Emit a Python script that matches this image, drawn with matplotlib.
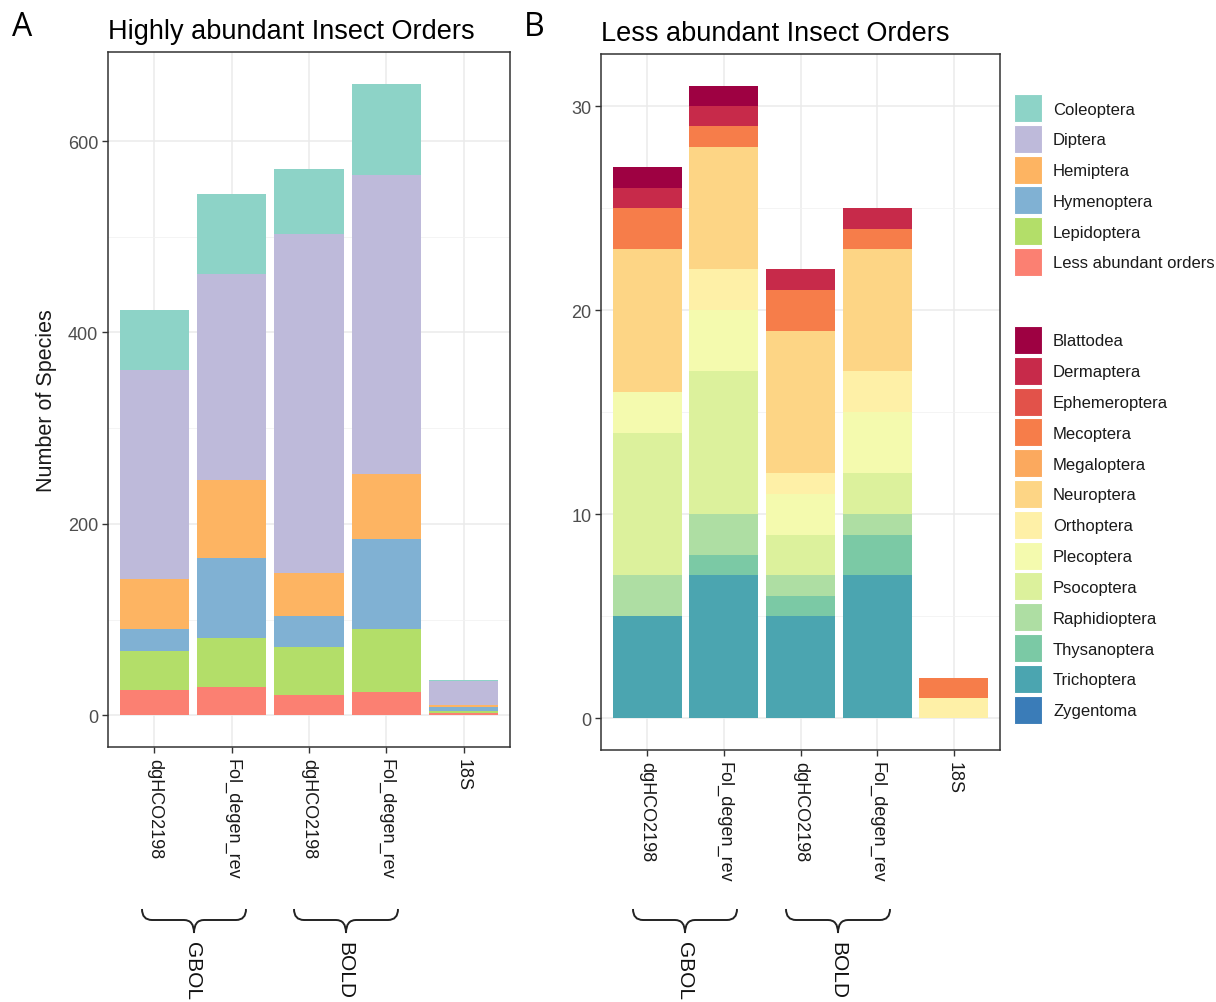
import numpy as np
import matplotlib
matplotlib.use("Agg")
import matplotlib.pyplot as plt
from matplotlib.patches import Rectangle, PathPatch
from matplotlib.path import Path

plt.rcParams['font.family'] = ['Liberation Sans', 'DejaVu Sans']

W, H = 1216, 1003

primers = ["dgHCO2198", "Fol_degen_rev", "dgHCO2198", "Fol_degen_rev", "18S"]

# highly abundant orders, species counts per primer/database
high_orders = ["Coleoptera", "Diptera", "Hemiptera", "Hymenoptera", "Lepidoptera",
               "Less abundant orders"]
high_colors = ["#8DD3C7", "#BEBADA", "#FDB462", "#80B1D3", "#B3DE69", "#FB8072"]
coleoptera = [62, 84, 68, 95, 1]
diptera = [219, 215, 354, 313, 25]
hemiptera = [52, 82, 45, 68, 2]
hymenoptera = [23, 83, 33, 94, 4]
lepidoptera = [40, 51, 50, 66, 3]
less_abundant = [27, 30, 21, 24, 2]
high_counts = [coleoptera, diptera, hemiptera, hymenoptera, lepidoptera, less_abundant]

# less abundant orders
low_orders = ["Blattodea", "Dermaptera", "Ephemeroptera", "Mecoptera", "Megaloptera",
              "Neuroptera", "Orthoptera", "Plecoptera", "Psocoptera", "Raphidioptera",
              "Thysanoptera", "Trichoptera", "Zygentoma"]
low_colors = ["#9E0142", "#C72A4A", "#E2524A", "#F67D4A", "#FBA95E", "#FDD585",
              "#FEF0A7", "#F4FAAE", "#DCF19C", "#AEDEA3", "#7BC9A5", "#4BA5B0", "#3A7CB8"]
blattodea = [1, 1, 0, 0, 0]
dermaptera = [1, 1, 1, 1, 0]
ephemeroptera = [0, 0, 0, 0, 0]
mecoptera = [2, 1, 2, 1, 1]
megaloptera = [0, 0, 0, 0, 0]
neuroptera = [7, 6, 7, 6, 0]
orthoptera = [0, 2, 1, 2, 1]
plecoptera = [2, 3, 2, 3, 0]
psocoptera = [7, 7, 2, 2, 0]
raphidioptera = [2, 2, 1, 1, 0]
thysanoptera = [0, 1, 1, 2, 0]
trichoptera = [5, 7, 5, 7, 0]
zygentoma = [0, 0, 0, 0, 0]
low_counts = [blattodea, dermaptera, ephemeroptera, mecoptera, megaloptera, neuroptera,
              orthoptera, plecoptera, psocoptera, raphidioptera, thysanoptera,
              trichoptera, zygentoma]


def px_axes(fig, x0, y0, x1, y1):
    return fig.add_axes([x0 / W, 1 - y1 / H, (x1 - x0) / W, (y1 - y0) / H])


def stacked(ax, counts, colors, ylim, major, minor):
    x = np.arange(1, len(primers) + 1)
    bottom = np.zeros(len(primers))
    # first level ends up on top, like ggplot's stacking
    for vals, col in zip(counts[::-1], colors[::-1]):
        vals = np.array(vals, dtype=float)
        ax.bar(x, vals, 0.9, bottom=bottom, color=col, linewidth=0, zorder=2)
        bottom += vals
    ax.set_xlim(0.4, len(primers) + 0.6)
    ax.set_ylim(*ylim)
    ax.set_xticks(x)
    ax.set_xticklabels(primers, rotation=270, fontsize=14, color="#1a1a1a",
                       va="top", ha="center")
    ax.set_yticks(major)
    ax.set_yticks(minor, minor=True)
    ax.tick_params(axis="y", which="minor", length=0)
    ax.tick_params(axis="both", which="major", length=4, width=1, color="#333333",
                   labelsize=13, labelcolor="#4D4D4D", pad=3)
    ax.tick_params(axis="x", labelcolor="#1a1a1a", pad=4)
    ax.grid(True, which="major", color="#EBEBEB", linewidth=1.1, zorder=0)
    ax.grid(True, which="minor", axis="y", color="#F2F2F2", linewidth=0.6, zorder=0)
    ax.set_axisbelow(True)
    for s in ax.spines.values():
        s.set_color("#333333")
        s.set_linewidth(1.1)


def brace(fig, x0, x1, ytop, ymid, ytip):
    xm = (x0 + x1) / 2
    r = 10
    pts = [(x0, ytop), (x0, ymid), (x0 + r, ymid),
           (xm - r, ymid), (xm, ymid), (xm, ytip),
           (xm, ymid), (xm + r, ymid),
           (x1 - r, ymid), (x1, ymid), (x1, ytop)]
    codes = [Path.MOVETO, Path.CURVE3, Path.CURVE3,
             Path.LINETO, Path.CURVE3, Path.CURVE3,
             Path.CURVE3, Path.CURVE3,
             Path.LINETO, Path.CURVE3, Path.CURVE3]
    verts = [(x / W, 1 - y / H) for x, y in pts]
    fig.patches.append(PathPatch(Path(verts, codes), transform=fig.transFigure,
                                 facecolor="none", edgecolor="#222222", linewidth=1.4))


fig = plt.figure(figsize=(W / 100, H / 100), dpi=100)

axA = px_axes(fig, 108, 53, 510, 748)
stacked(axA, high_counts, high_colors, (-33, 693), [0, 200, 400, 600], [100, 300, 500])
axA.set_ylabel("Number of Species", fontsize=15.5, color="#1a1a1a", labelpad=8)
axA.set_title("Highly abundant Insect Orders", loc="left", fontsize=19.5, pad=10)

axB = px_axes(fig, 601, 55, 1000, 751)
stacked(axB, low_counts, low_colors, (-1.55, 32.55), [0, 10, 20, 30], [5, 15, 25])
axB.set_title("Less abundant Insect Orders", loc="left", fontsize=19.5, pad=10)

fig.text(22 / W, 1 - 27 / H, "A", fontsize=23, family="Open Sans", va="center",
         ha="center")
fig.text(534 / W, 1 - 27 / H, "B", fontsize=23, family="Open Sans", va="center",
         ha="center")


# legend for both groups of orders
def legend_block(labels, colors, ytop, step=30.8):
    for i, (lab, col) in enumerate(zip(labels, colors)):
        y = ytop + i * step
        fig.patches.append(Rectangle((1014 / W, 1 - (y + 28) / H), 28 / W, 28 / H,
                                     transform=fig.transFigure, facecolor=col,
                                     edgecolor="white", linewidth=0.8))
        fig.text(1053 / W, 1 - (y + 15) / H, lab, fontsize=12, color="#1a1a1a",
                 va="center", ha="left")


legend_block(high_orders, high_colors, 95)
legend_block(low_orders, low_colors, 327)

# database braces under the primer labels
for xs in [(142, 246), (294, 398), (633, 737), (786, 890)]:
    brace(fig, xs[0], xs[1], 910, 921, 934)
for xc, lab in [(192, "GBOL"), (345, "BOLD"), (685, "GBOL"), (838, "BOLD")]:
    fig.text(xc / W, 1 - 942 / H, lab, fontsize=15, rotation=270, va="top",
             ha="center", color="#111111")

fig.savefig("out.png", dpi=100)
